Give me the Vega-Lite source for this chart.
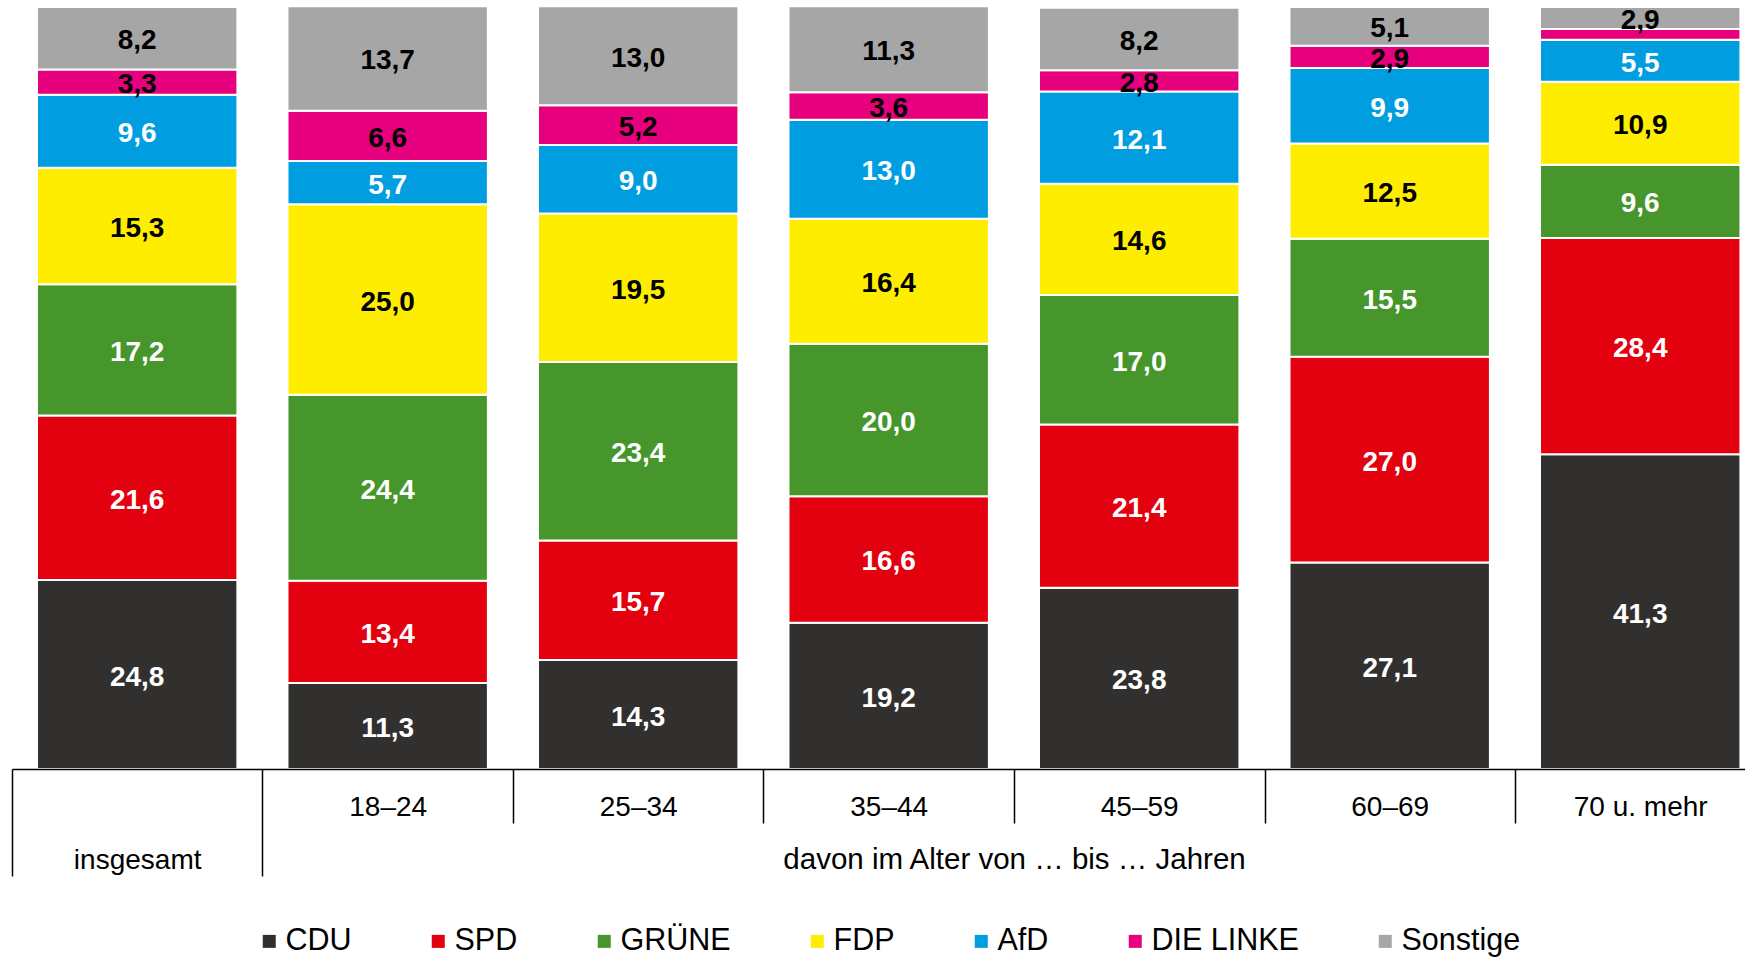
{
  "$schema": "https://vega.github.io/schema/vega-lite/v6.json",
  "width": 1733,
  "height": 762,
  "autosize": {"type": "none"},
  "padding": {"left": 12, "top": 7, "right": 0, "bottom": 189},
  "background": "white",
  "config": {
    "view": {"stroke": null},
    "font": "Liberation Sans",
    "locale": {"number": {"decimal": ",", "thousands": ".", "grouping": [3], "currency": ["", " €"]}}
  },
  "data": {"values": [
    {"group": "insgesamt", "party": "CDU", "rank": 1, "value": 24.8},
    {"group": "insgesamt", "party": "SPD", "rank": 2, "value": 21.6},
    {"group": "insgesamt", "party": "GRÜNE", "rank": 3, "value": 17.2},
    {"group": "insgesamt", "party": "FDP", "rank": 4, "value": 15.3},
    {"group": "insgesamt", "party": "AfD", "rank": 5, "value": 9.6},
    {"group": "insgesamt", "party": "DIE LINKE", "rank": 6, "value": 3.3},
    {"group": "insgesamt", "party": "Sonstige", "rank": 7, "value": 8.2},
    {"group": "18–24", "party": "CDU", "rank": 1, "value": 11.3},
    {"group": "18–24", "party": "SPD", "rank": 2, "value": 13.4},
    {"group": "18–24", "party": "GRÜNE", "rank": 3, "value": 24.4},
    {"group": "18–24", "party": "FDP", "rank": 4, "value": 25.0},
    {"group": "18–24", "party": "AfD", "rank": 5, "value": 5.7},
    {"group": "18–24", "party": "DIE LINKE", "rank": 6, "value": 6.6},
    {"group": "18–24", "party": "Sonstige", "rank": 7, "value": 13.7},
    {"group": "25–34", "party": "CDU", "rank": 1, "value": 14.3},
    {"group": "25–34", "party": "SPD", "rank": 2, "value": 15.7},
    {"group": "25–34", "party": "GRÜNE", "rank": 3, "value": 23.4},
    {"group": "25–34", "party": "FDP", "rank": 4, "value": 19.5},
    {"group": "25–34", "party": "AfD", "rank": 5, "value": 9.0},
    {"group": "25–34", "party": "DIE LINKE", "rank": 6, "value": 5.2},
    {"group": "25–34", "party": "Sonstige", "rank": 7, "value": 13.0},
    {"group": "35–44", "party": "CDU", "rank": 1, "value": 19.2},
    {"group": "35–44", "party": "SPD", "rank": 2, "value": 16.6},
    {"group": "35–44", "party": "GRÜNE", "rank": 3, "value": 20.0},
    {"group": "35–44", "party": "FDP", "rank": 4, "value": 16.4},
    {"group": "35–44", "party": "AfD", "rank": 5, "value": 13.0},
    {"group": "35–44", "party": "DIE LINKE", "rank": 6, "value": 3.6},
    {"group": "35–44", "party": "Sonstige", "rank": 7, "value": 11.3},
    {"group": "45–59", "party": "CDU", "rank": 1, "value": 23.8},
    {"group": "45–59", "party": "SPD", "rank": 2, "value": 21.4},
    {"group": "45–59", "party": "GRÜNE", "rank": 3, "value": 17.0},
    {"group": "45–59", "party": "FDP", "rank": 4, "value": 14.6},
    {"group": "45–59", "party": "AfD", "rank": 5, "value": 12.1},
    {"group": "45–59", "party": "DIE LINKE", "rank": 6, "value": 2.8},
    {"group": "45–59", "party": "Sonstige", "rank": 7, "value": 8.2},
    {"group": "60–69", "party": "CDU", "rank": 1, "value": 27.1},
    {"group": "60–69", "party": "SPD", "rank": 2, "value": 27.0},
    {"group": "60–69", "party": "GRÜNE", "rank": 3, "value": 15.5},
    {"group": "60–69", "party": "FDP", "rank": 4, "value": 12.5},
    {"group": "60–69", "party": "AfD", "rank": 5, "value": 9.9},
    {"group": "60–69", "party": "DIE LINKE", "rank": 6, "value": 2.9},
    {"group": "60–69", "party": "Sonstige", "rank": 7, "value": 5.1},
    {"group": "70 u. mehr", "party": "CDU", "rank": 1, "value": 41.3},
    {"group": "70 u. mehr", "party": "SPD", "rank": 2, "value": 28.4},
    {"group": "70 u. mehr", "party": "GRÜNE", "rank": 3, "value": 9.6},
    {"group": "70 u. mehr", "party": "FDP", "rank": 4, "value": 10.9},
    {"group": "70 u. mehr", "party": "AfD", "rank": 5, "value": 5.5},
    {"group": "70 u. mehr", "party": "DIE LINKE", "rank": 6, "value": 1.4},
    {"group": "70 u. mehr", "party": "Sonstige", "rank": 7, "value": 2.9}
  ]},
  "encoding": {
    "x": {
      "field": "group", "type": "nominal",
      "sort": ["insgesamt", "18–24", "25–34", "35–44", "45–59", "60–69", "70 u. mehr"],
      "scale": {"paddingInner": 0.2, "paddingOuter": 0.059, "align": 0.845},
      "axis": {
        "title": "davon im Alter von … bis … Jahren",
        "titleFont": "Liberation Sans", "titleFontSize": 29.5, "titleFontWeight": "normal", "titleColor": "black",
        "titleX": 1002, "titleY": 90, "titleAlign": "center", "titleBaseline": "middle",
        "labelAngle": 0, "labelFont": "Liberation Sans", "labelFontSize": 28, "labelColor": "black",
        "labelBaseline": "middle", "labelPadding": -16, "labelOffset": 25,
        "bandPosition": 1.25, "tickExtra": true, "tickOffset": -25,
        "tickSize": {"condition": {"test": "datum.value === 'insgesamt' || datum.value == null", "value": 107}, "value": 54},
        "tickOpacity": {"condition": {"test": "datum.value === '70 u. mehr'", "value": 0}, "value": 1},
        "tickColor": "black", "tickWidth": 1.5,
        "domainColor": "black", "domainWidth": 1.5,
        "zindex": 1
      }
    },
    "y": {"field": "value", "type": "quantitative", "stack": "zero", "scale": {"domain": [0, 100], "nice": false}, "axis": null},
    "order": {"field": "rank", "type": "quantitative"}
  },
  "layer": [
    {
      "mark": {"type": "bar", "stroke": "white", "strokeWidth": 2},
      "encoding": {
        "color": {
          "field": "party", "type": "nominal",
          "scale": {
            "domain": ["CDU", "SPD", "GRÜNE", "FDP", "AfD", "DIE LINKE", "Sonstige"],
            "range": ["#32302f", "#e3000f", "#46962b", "#ffed00", "#009ee0", "#e6007e", "#a6a6a6"]
          },
          "legend": {
            "orient": "none", "legendX": 242, "legendY": 919, "direction": "horizontal",
            "title": null, "labelFont": "Liberation Sans", "labelFontSize": 30.5, "labelColor": "black",
            "symbolType": "square", "symbolSize": 169, "symbolStrokeWidth": 0, "symbolOpacity": 1,
            "columnPadding": 71, "labelOffset": 1, "padding": 0, "labelLimit": 0
          }
        }
      }
    },
    {
      "mark": {"type": "text", "fontSize": 28, "fontWeight": "bold", "font": "Liberation Sans", "baseline": "middle", "align": "center", "dy": 3},
      "encoding": {
        "y": {"field": "value", "type": "quantitative", "stack": "zero", "bandPosition": 0.5},
        "text": {"condition": {"test": "datum.value < 2", "value": ""}, "field": "value", "type": "quantitative", "format": ".1f"},
        "color": {"condition": {"test": "datum.party === 'CDU' || datum.party === 'SPD' || datum.party === 'GRÜNE' || datum.party === 'AfD'", "value": "white"}, "value": "black"}
      }
    }
  ]
}
